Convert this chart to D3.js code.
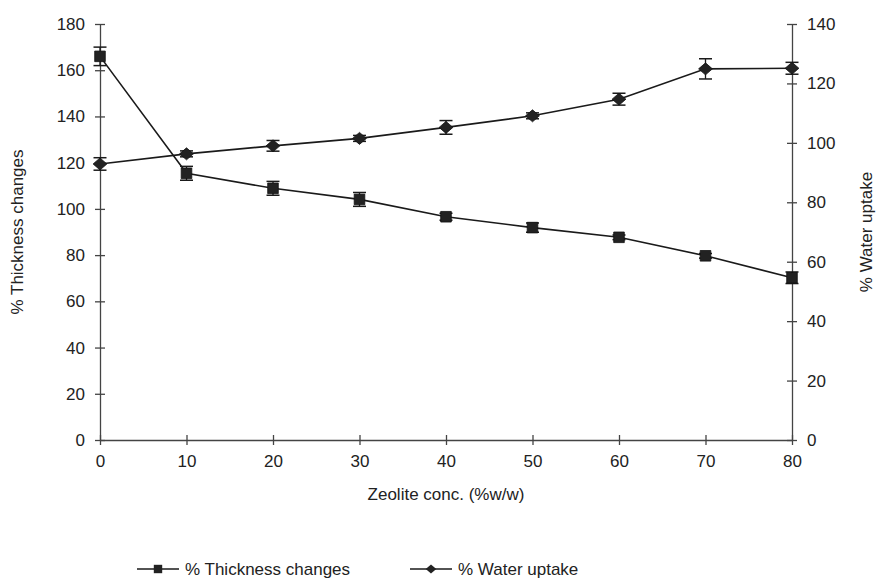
<!DOCTYPE html>
<html>
<head>
<meta charset="utf-8">
<script src="https://cdn.jsdelivr.net/npm/d3@7"></script>
<style>
  body { margin: 0; background: #fff; }
  text { font-family: "Liberation Sans", Arial, sans-serif; fill: #222; }
</style>
</head>
<body>
<div id="chart"></div>
<script>
// zeolite concentration (%w/w)
var zeolite = [0, 10, 20, 30, 40, 50, 60, 70, 80];
var thickness = [166, 115.4, 108.9, 104.1, 96.6, 91.9, 87.7, 79.7, 70.2];
var thicknessErr = [4, 3, 3, 3, 1.5, 2, 1, 1, 2.5];
var water = [92.9, 96.3, 99.0, 101.5, 105.2, 109.1, 114.7, 124.9, 125.1];
var waterErr = [2.1, 1, 1.8, 1, 2.3, 1, 2, 3.4, 2];
var leftTicks = [0, 20, 40, 60, 80, 100, 120, 140, 160, 180];
var rightTicks = [0, 20, 40, 60, 80, 100, 120, 140];

var W = 879, H = 586;
var margin = {left: 100, right: 87, top: 24, bottom: 146};
var innerW = W - margin.left - margin.right;
var innerH = H - margin.top - margin.bottom;

var svg = d3.select("#chart").append("svg")
  .attr("width", W).attr("height", H);
var g = svg.append("g")
  .attr("transform", "translate(" + margin.left + "," + margin.top + ")");

var x = d3.scaleLinear().domain([0, 80]).range([0, innerW]);
var yL = d3.scaleLinear().domain([0, 180]).range([innerH, 0]);
var yR = d3.scaleLinear().domain([0, 140]).range([innerH, 0]);

function styleAxis(sel) {
  sel.selectAll("path").attr("stroke", "#444").attr("stroke-width", 1.3);
  sel.selectAll("line").attr("stroke", "#444").attr("stroke-width", 1.3);
  sel.selectAll("text").style("font-size", "17px").attr("fill", "#222");
}

// marker shapes: square and a squat diamond like the original
function marker(shape, r) {
  if (shape === "square") {
    return "M" + (-r) + "," + (-r) + "H" + r + "V" + r + "H" + (-r) + "Z";
  }
  var w = r * 1.15;
  return "M0," + (-r) + "L" + w + ",0L0," + r + "L" + (-w) + ",0Z";
}

// x axis
var xAx = g.append("g").attr("transform", "translate(0," + innerH + ")")
  .call(d3.axisBottom(x).tickValues(zeolite).tickSize(5).tickSizeOuter(0).tickPadding(10));
xAx.selectAll(".tick line").attr("y1", -5);
styleAxis(xAx);

// left axis
var lAx = g.append("g")
  .call(d3.axisLeft(yL).tickValues(leftTicks).tickSize(5).tickSizeOuter(0).tickPadding(10));
lAx.selectAll(".tick line").attr("x1", 5);
styleAxis(lAx);

// right axis
var rAx = g.append("g").attr("transform", "translate(" + innerW + ",0)")
  .call(d3.axisRight(yR).tickValues(rightTicks).tickSize(5).tickSizeOuter(0).tickPadding(10));
rAx.selectAll(".tick line").attr("x1", -5);
styleAxis(rAx);

// axis titles
svg.append("text")
  .attr("transform", "translate(23," + (margin.top + innerH / 2) + ") rotate(-90)")
  .attr("text-anchor", "middle").style("font-size", "17px")
  .text("% Thickness changes");
svg.append("text")
  .attr("transform", "translate(872," + (margin.top + innerH / 2) + ") rotate(-90)")
  .attr("text-anchor", "middle").style("font-size", "17px")
  .text("% Water uptake");
svg.append("text")
  .attr("x", 446).attr("y", 500)
  .attr("text-anchor", "middle").style("font-size", "17px")
  .text("Zeolite conc. (%w/w)");

var ink = "#1a1a1a";

function drawSeries(vals, errs, yScale, shape) {
  var pts = zeolite.map(function(z, i) { return {x: z, v: vals[i], e: errs[i]}; });
  var line = d3.line().x(function(d) { return x(d.x); }).y(function(d) { return yScale(d.v); });
  g.append("path").datum(pts).attr("d", line)
    .attr("fill", "none").attr("stroke", ink).attr("stroke-width", 1.6);

  var eb = g.append("g").selectAll("g").data(pts).enter().append("g");
  eb.append("line")
    .attr("x1", function(d) { return x(d.x); }).attr("x2", function(d) { return x(d.x); })
    .attr("y1", function(d) { return yScale(d.v - d.e); })
    .attr("y2", function(d) { return yScale(d.v + d.e); })
    .attr("stroke", ink).attr("stroke-width", 1.3);
  [-1, 1].forEach(function(s) {
    eb.append("line")
      .attr("x1", function(d) { return x(d.x) - 6.5; })
      .attr("x2", function(d) { return x(d.x) + 6.5; })
      .attr("y1", function(d) { return yScale(d.v + s * d.e); })
      .attr("y2", function(d) { return yScale(d.v + s * d.e); })
      .attr("stroke", ink).attr("stroke-width", 1.5);
  });

  g.append("g").selectAll("path").data(pts).enter().append("path")
    .attr("d", marker(shape, shape === "square" ? 5.3 : 6))
    .attr("transform", function(d) { return "translate(" + x(d.x) + "," + yScale(d.v) + ")"; })
    .attr("fill", "#222").attr("stroke", "#111").attr("stroke-width", 0.8);
}

drawSeries(thickness, thicknessErr, yL, "square");
drawSeries(water, waterErr, yR, "diamond");

// legend
var legend = [
  {label: "% Thickness changes", shape: "square", x0: 137},
  {label: "% Water uptake", shape: "diamond", x0: 410}
];
var ly = 569;
legend.forEach(function(d) {
  svg.append("line").attr("x1", d.x0).attr("x2", d.x0 + 42)
    .attr("y1", ly).attr("y2", ly).attr("stroke", ink).attr("stroke-width", 1.6);
  svg.append("path")
    .attr("d", marker(d.shape, d.shape === "square" ? 4.2 : 4.6))
    .attr("transform", "translate(" + (d.x0 + 21) + "," + ly + ")")
    .attr("fill", "#222");
  svg.append("text").attr("x", d.x0 + 48).attr("y", ly + 6)
    .style("font-size", "17px").text(d.label);
});
</script>
</body>
</html>
